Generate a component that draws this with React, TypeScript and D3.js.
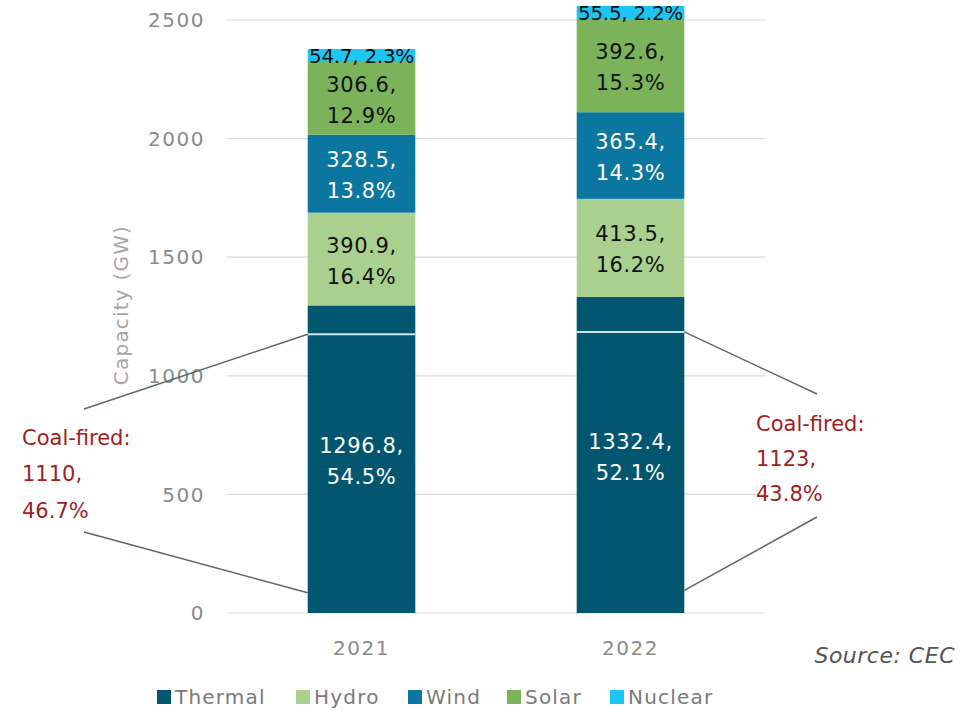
import React from "react";
import * as d3 from "d3";

const years = ["2021", "2022"];
const sources = ["Thermal", "Hydro", "Wind", "Solar", "Nuclear"];
const thermal = [1296.8, 1332.4];
const hydro = [390.9, 413.5];
const wind = [328.5, 365.4];
const solar = [306.6, 392.6];
const nuclear = [54.7, 55.5];
const thermalPct = ["54.5%", "52.1%"];
const hydroPct = ["16.4%", "16.2%"];
const windPct = ["13.8%", "14.3%"];
const solarPct = ["12.9%", "15.3%"];
const nuclearPct = ["2.3%", "2.2%"];
const coalValue = [1110, 1123];
const coalPct = ["46.7%", "43.8%"];
const coalMarker = [1175, 1185]; // level of the drawn coal divider as seen in the picture
const bracketBottom = [85, 95];
const yTicks = [0, 500, 1000, 1500, 2000, 2500];

const colors: Record<string, string> = {
  Thermal: "#03566f",
  Hydro: "#a9d08e",
  Wind: "#0b77a0",
  Solar: "#7bb35a",
  Nuclear: "#1cc6f1",
};
const labelColor: Record<string, string> = {
  Thermal: "#ffffff",
  Hydro: "#111111",
  Wind: "#ffffff",
  Solar: "#111111",
  Nuclear: "#111111",
};

const W = 971;
const H = 711;
const FONT = "'DejaVu Sans', sans-serif";

export default function App() {
  const x = d3.scaleBand<string>().domain(years).range([227, 765]).paddingInner(0.6).paddingOuter(0.3);
  const y = d3.scaleLinear().domain([0, 2500]).range([613, 20]);

  const rows = years.map((yr, i) => ({
    year: yr,
    Thermal: thermal[i],
    Hydro: hydro[i],
    Wind: wind[i],
    Solar: solar[i],
    Nuclear: nuclear[i],
  }));
  const pcts: Record<string, string[]> = {
    Thermal: thermalPct,
    Hydro: hydroPct,
    Wind: windPct,
    Solar: solarPct,
    Nuclear: nuclearPct,
  };
  const stack = d3.stack<any>().keys(sources)(rows);

  const legendX = [157, 296, 408, 507, 610];

  return (
    <svg width={W} height={H} style={{ position: "absolute", left: 0, top: 0, background: "#fff" }} fontFamily={FONT}>
      {/* gridlines */}
      {yTicks.map((t) => (
        <line key={"g" + t} x1={227} x2={765} y1={y(t)} y2={y(t)} stroke="#d9d9d9" strokeWidth={1.2} />
      ))}
      {/* tick labels */}
      {yTicks.map((t) => (
        <text key={"t" + t} x={205} y={y(t)} dy="0.36em" textAnchor="end" fontSize={20} fill="#8a8a8a" letterSpacing={1.5}>
          {t}
        </text>
      ))}
      <text
        transform={`translate(128,305) rotate(-90)`}
        textAnchor="middle"
        fontSize={20}
        fill="#a6a6a6"
        letterSpacing={1.2}
      >
        Capacity (GW)
      </text>

      {/* bars */}
      {stack.map((layer) => (
        <g key={layer.key}>
          {layer.map((d, i) => {
            const x0 = x(years[i])!;
            const top = y(d[1]);
            const bot = y(d[0]);
            return (
              <rect key={i} x={x0} y={top} width={x.bandwidth()} height={bot - top} fill={colors[layer.key]} />
            );
          })}
        </g>
      ))}

      {/* coal marker lines */}
      {years.map((yr, i) => (
        <line
          key={"cm" + yr}
          x1={x(yr)!}
          x2={x(yr)! + x.bandwidth()}
          y1={y(coalMarker[i])}
          y2={y(coalMarker[i])}
          stroke="#cfe6ee"
          strokeWidth={2}
        />
      ))}

      {/* segment labels */}
      {stack.map((layer) =>
        layer.map((d, i) => {
          const cx = x(years[i])! + x.bandwidth() / 2;
          const cy = (y(d[0]) + y(d[1])) / 2;
          const val = (d[1] - d[0]).toFixed(1);
          const col = labelColor[layer.key];
          if (layer.key === "Nuclear") {
            return (
              <text key={layer.key + i} x={cx} y={cy} dy="0.36em" textAnchor="middle" fontSize={20} fill={col} letterSpacing={-0.3}>
                {val + ", " + pcts[layer.key][i]}
              </text>
            );
          }
          return (
            <text key={layer.key + i} x={cx} textAnchor="middle" fontSize={21} fill={col} letterSpacing={0.6}>
              <tspan x={cx} y={cy - 14} dy="0.36em">{val + ","}</tspan>
              <tspan x={cx} y={cy + 17} dy="0.36em">{pcts[layer.key][i]}</tspan>
            </text>
          );
        })
      )}

      {/* x labels */}
      {years.map((yr) => (
        <text key={"x" + yr} x={x(yr)! + x.bandwidth() / 2} y={648} dy="0.36em" textAnchor="middle" fontSize={20} fill="#8a8a8a" letterSpacing={1.5}>
          {yr}
        </text>
      ))}

      {/* coal annotation lines */}
      <line x1={84} y1={409} x2={x(years[0])!} y2={y(coalMarker[0])} stroke="#5a6b5e" strokeWidth={1.5} />
      <line x1={84} y1={532} x2={x(years[0])!} y2={y(bracketBottom[0])} stroke="#5a6b5e" strokeWidth={1.5} />
      <line x1={817} y1={394} x2={x(years[1])! + x.bandwidth()} y2={y(coalMarker[1])} stroke="#5a6b5e" strokeWidth={1.5} />
      <line x1={817} y1={517} x2={x(years[1])! + x.bandwidth()} y2={y(bracketBottom[1])} stroke="#5a6b5e" strokeWidth={1.5} />

      {/* coal annotation text */}
      <text x={22} fontSize={21} fill="#a31d1d">
        <tspan x={22} y={437} dy="0.36em">Coal-fired:</tspan>
        <tspan x={22} y={473} dy="0.36em">{coalValue[0] + ","}</tspan>
        <tspan x={22} y={510} dy="0.36em">{coalPct[0]}</tspan>
      </text>
      <text x={756} fontSize={21} fill="#a31d1d">
        <tspan x={756} y={423} dy="0.36em">Coal-fired:</tspan>
        <tspan x={756} y={458} dy="0.36em">{coalValue[1] + ","}</tspan>
        <tspan x={756} y={493} dy="0.36em">{coalPct[1]}</tspan>
      </text>

      {/* source */}
      <text x={955} y={655} dy="0.36em" textAnchor="end" fontSize={22} fontStyle="italic" fill="#555" letterSpacing={0.5}>
        Source: CEC
      </text>

      {/* legend */}
      {sources.map((s, i) => (
        <g key={"l" + s} transform={`translate(${legendX[i]},697)`}>
          <rect x={0} y={-7} width={14} height={14} fill={colors[s]} />
          <text x={18} y={0} dy="0.36em" fontSize={20} fill="#7a7a7a" letterSpacing={1.2}>
            {s}
          </text>
        </g>
      ))}
    </svg>
  );
}
